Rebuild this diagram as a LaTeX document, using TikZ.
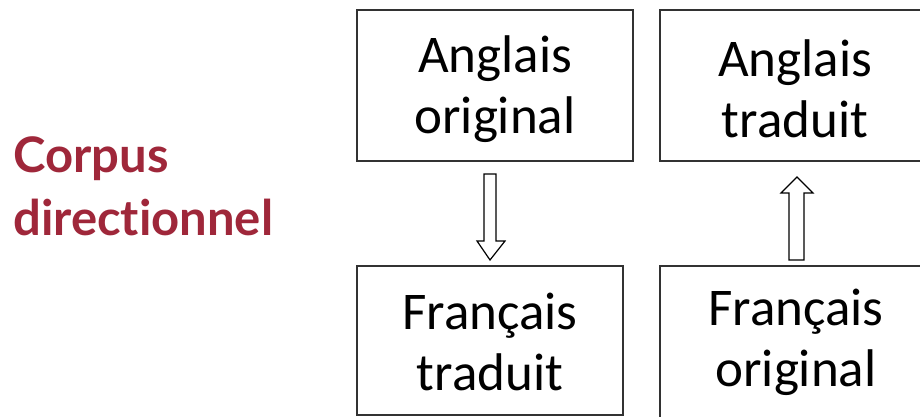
\documentclass[tikz,border=0pt]{standalone}
\usepackage{fontspec}
\setmainfont{Carlito}
\newfontfamily\titlefont[Ligatures=NoCommon]{Lato}
\definecolor{titlered}{RGB}{159,39,58}
\definecolor{boxline}{RGB}{50,50,50}
\begin{document}
\begin{tikzpicture}[x=1pt,y=-1pt,
  boxstyle/.style={draw=boxline,line width=1.3pt},
  boxtext/.style={align=center,font=\fontsize{53}{61}\selectfont,inner sep=0pt},
  blockarrow/.style={draw=black,line width=1.2pt,fill=white,line join=miter}]
\useasboundingbox (0,0) rectangle (920,417);
\clip (0,0) rectangle (920,417);
\fill[white] (0,0) rectangle (920,417);
% boxes
\draw[boxstyle] (357,10) rectangle (633,161);
\draw[boxstyle] (660,10) rectangle (935,161);
\draw[boxstyle] (357,266) rectangle (623,415);
\draw[boxstyle] (660,266) rectangle (935,425);
\node[boxtext] (ao) at (495,89) {Anglais\\original};
\node[boxtext] (at) at (795,89) {Anglais\\traduit};
\node[boxtext] (ft) at (490,342) {Français\\traduit};
\node[boxtext] (fo) at (796,342) {Français\\original};
% title
\node[align=left,anchor=west,text=titlered,font=\titlefont\bfseries\fontsize{49}{63}\selectfont,inner sep=0pt] (title) at (13,186) {Corpus\\directionnel};
% arrows
\draw[blockarrow] (484,174) -- (496,174) -- (496,241) -- (505,241) -- (490,260) -- (477,241) -- (484,241) -- cycle;
\draw[blockarrow] (789,260) -- (804,260) -- (804,193) -- (813,193) -- (797,177) -- (781,193) -- (789,193) -- cycle;
\end{tikzpicture}
\end{document}
